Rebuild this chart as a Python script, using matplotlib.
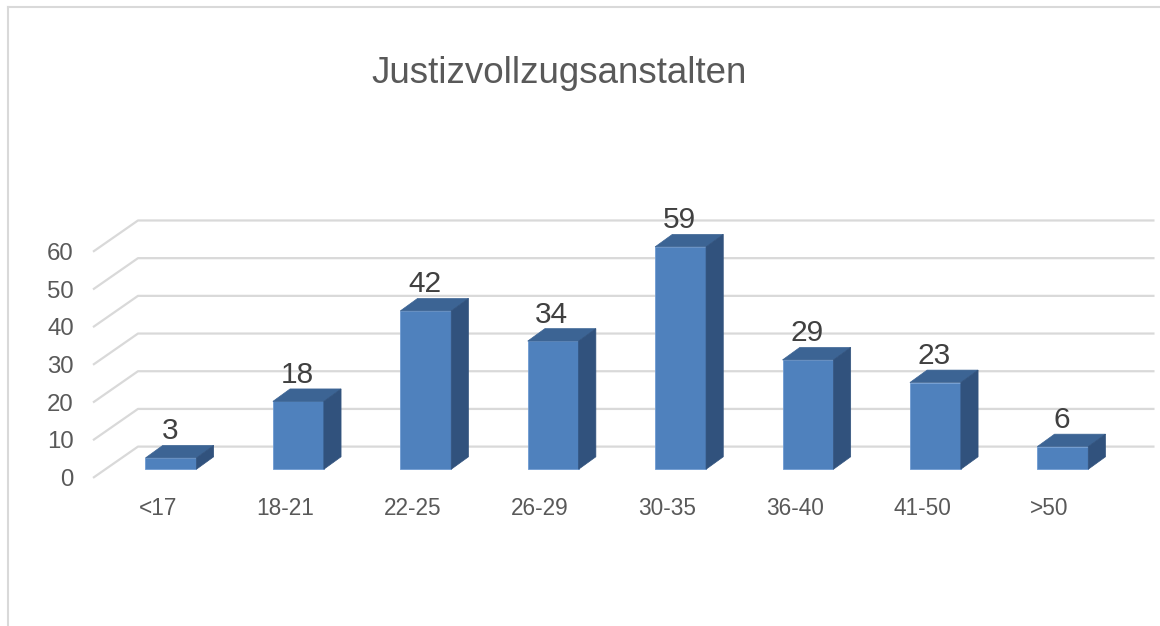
import matplotlib
matplotlib.use("Agg")
import matplotlib.pyplot as plt
from matplotlib.patches import Polygon
from matplotlib.lines import Line2D

plt.rcParams['font.family'] = ['Liberation Sans', 'DejaVu Sans']

# data
categories = ["<17", "18-21", "22-25", "26-29", "30-35", "36-40", "41-50", ">50"]
counts = [3, 18, 42, 34, 59, 29, 23, 6]
grid_values = [0, 10, 20, 30, 40, 50, 60]

# colours
front_col = "#4f81bd"
top_col = "#3c6494"
side_col = "#31527d"
grid_col = "#d9d9d9"

# fake 3d geometry (data units)
bar_w = 0.40
bar_dx, bar_dy = 0.135, 3.3      # depth of a bar
floor_front_x, floor_front_dy = -0.612, -2.3
floor_back_x, floor_back_dy = -0.259, 6.0
grid_end_x = 7.72

fig = plt.figure(figsize=(11.6, 6.26), dpi=100)
ax = fig.add_axes([0, 0, 1, 1])
ax.set_xlim(-1.342, 7.763)
ax.set_ylim(-41.6, 124.5)
ax.axis("off")

# gridlines with the perspective step on the left
for g in grid_values:
    ax.plot([floor_front_x, floor_back_x, grid_end_x],
            [g + floor_front_dy, g + floor_back_dy, g + floor_back_dy],
            color=grid_col, lw=1.6, zorder=1, solid_capstyle="butt")
    ax.text(-0.762, g + floor_front_dy - 0.6, str(g), ha="right", va="center",
            fontsize=17.3, color="#595959")

# bars
for i, v in enumerate(counts):
    x0 = i - bar_w / 2
    x1 = i + bar_w / 2
    ax.bar(i, v, width=bar_w, color=front_col, edgecolor="#6e9bd2",
           linewidth=0.6, zorder=3)
    top = Polygon([(x0, v), (x1, v), (x1 + bar_dx, v + bar_dy), (x0 + bar_dx, v + bar_dy)],
                  closed=True, facecolor=top_col, edgecolor=top_col, lw=0.5, zorder=3)
    side = Polygon([(x1, 0), (x1, v), (x1 + bar_dx, v + bar_dy), (x1 + bar_dx, bar_dy)],
                   closed=True, facecolor=side_col, edgecolor=side_col, lw=0.5, zorder=3)
    ax.add_patch(top)
    ax.add_patch(side)
    ax.text(i - 0.01, v + bar_dy + 1.6, str(v), ha="center", va="baseline",
            fontsize=21.5, color="#404040", zorder=4)
    ax.text(i - 0.105, -10.3, categories[i], ha="center", va="center",
            fontsize=16.3, color="#595959")

# title
fig.text(0.482, 0.883, "Justizvollzugsanstalten", ha="center", va="center",
         fontsize=26.5, color="#595959")

# chart area border (left and top visible)
bx = 7.5 / 1160
by = 1 - 6.5 / 626
fig.add_artist(Line2D([bx, bx], [0, by], transform=fig.transFigure, color=grid_col, lw=1.5))
fig.add_artist(Line2D([bx, 1], [by, by], transform=fig.transFigure, color=grid_col, lw=1.5))

fig.savefig("out.png", dpi=100)
plt.close(fig)
